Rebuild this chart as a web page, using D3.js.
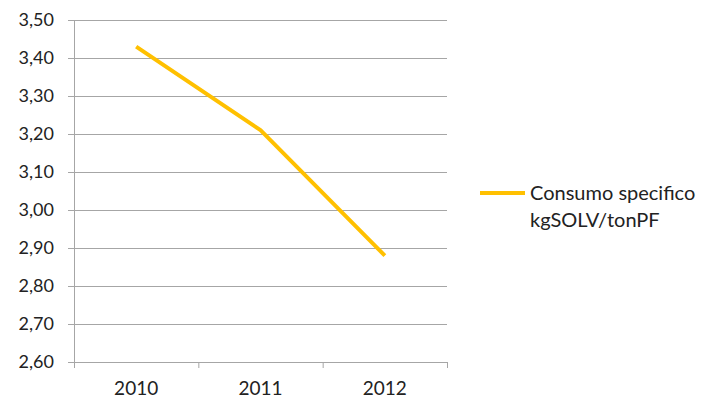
<!DOCTYPE html>
<html><head><meta charset="utf-8">
<script src="https://cdn.jsdelivr.net/npm/d3@7"></script>
<style>body{margin:0;background:#fff}svg{display:block}text{font-family:Lato,"Open Sans",sans-serif;fill:#222}</style>
</head><body>
<svg id="c" width="704" height="400"></svg>
<script>
const categories = ["2010", "2011", "2012"];
const values = [3.43, 3.21, 2.88];
const yTicks = [2.6, 2.7, 2.8, 2.9, 3.0, 3.1, 3.2, 3.3, 3.4, 3.5];
const seriesName = ["Consumo specifico", "kgSOLV/tonPF"];

const svg = d3.select("#c");
const L = 74, R = 447, T = 20, B = 362;
const x = d3.scaleBand().domain(categories).range([L, R]);
const y = d3.scaleLinear().domain([2.6, 3.5]).range([B, T]);
const fmt = d => d.toFixed(2).replace(".", ",");

// gridlines
svg.append("g").selectAll("line").data(yTicks).join("line")
  .attr("x1", L - 6).attr("x2", R).attr("y1", d => y(d) + 0.5).attr("y2", d => y(d) + 0.5)
  .attr("stroke", "#a6a6a6").attr("stroke-width", 1);
// y axis line
svg.append("line").attr("x1", L + 0.5).attr("x2", L + 0.5).attr("y1", T).attr("y2", B + 6)
  .attr("stroke", "#a6a6a6");
// x ticks
const xt = [...categories.map(c => x(c)), R];
svg.append("g").selectAll("line").data(xt).join("line")
  .attr("x1", d => d + 0.5).attr("x2", d => d + 0.5).attr("y1", B).attr("y2", B + 6)
  .attr("stroke", "#a6a6a6");
// y labels
svg.append("g").selectAll("text").data(yTicks).join("text")
  .attr("x", 54).attr("y", d => y(d)).attr("dy", "0.36em").attr("text-anchor", "end")
  .attr("font-size", 18).text(fmt);
// x labels
svg.append("g").selectAll("text").data(categories).join("text")
  .attr("x", d => x(d) + x.bandwidth() / 2).attr("y", 395).attr("text-anchor", "middle")
  .attr("font-size", 19).text(d => d);
// line
const line = d3.line().x((d, i) => x(categories[i]) + x.bandwidth() / 2).y(d => y(d));
svg.append("path").datum(values).attr("d", line).attr("fill", "none")
  .attr("stroke", "#ffc000").attr("stroke-width", 4).attr("stroke-linejoin", "round");
// legend
svg.append("line").attr("x1", 480).attr("x2", 525).attr("y1", 193).attr("y2", 193)
  .attr("stroke", "#ffc000").attr("stroke-width", 4);
svg.append("g").selectAll("text").data(seriesName).join("text")
  .attr("x", 530).attr("y", (d, i) => 200 + i * 27).attr("font-size", 20).text(d => d);
</script>
</body></html>
